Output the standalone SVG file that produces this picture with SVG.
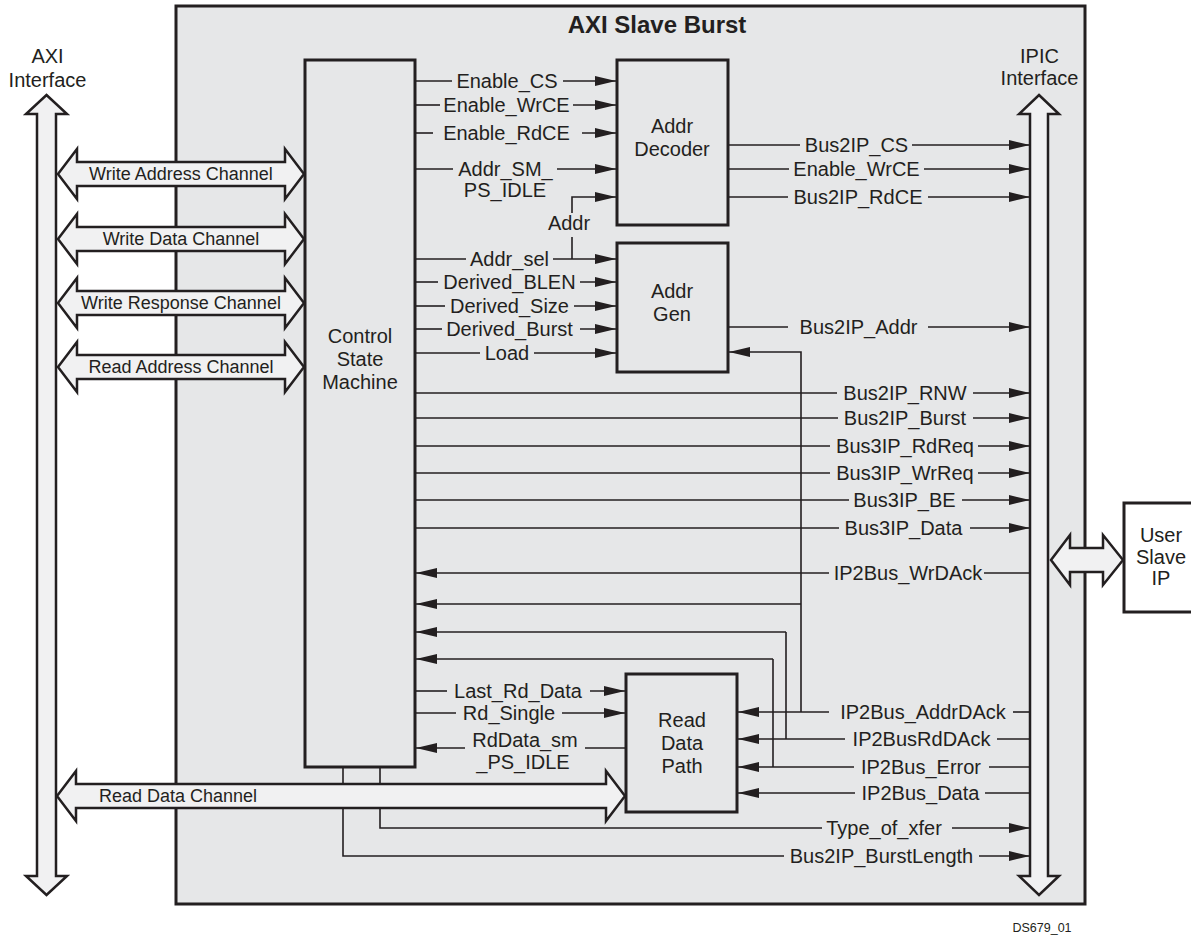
<svg xmlns="http://www.w3.org/2000/svg" width="1191" height="935" viewBox="0 0 1191 935">
<style>
.sig{fill:none;stroke:#231f20;stroke-width:1.6}
.arr{marker-end:url(#ah)}
.box{fill:#e6e7e8;stroke:#231f20;stroke-width:3}
.t{font-family:"Liberation Sans",Arial,Helvetica,sans-serif;font-size:20px;fill:#231f20;text-anchor:middle}
.ct{font-size:18px}
.bus{fill:#f1f1f2;stroke:#231f20;stroke-width:2.5;stroke-linejoin:miter}
</style>
<defs>
<marker id="ah" markerUnits="userSpaceOnUse" markerWidth="22" markerHeight="12" refX="21" refY="5" orient="auto"><path d="M0,0 L21,5 L0,10 z" fill="#231f20"/></marker>
</defs>
<rect width="1191" height="935" fill="#ffffff"/>

<g id="axi-slave-burst">
<rect class="box" x="176" y="6" width="909" height="898"/>
<text class="t" x="657" y="33" style="font-weight:bold;font-size:24px">AXI Slave Burst</text>
</g>

<g id="axi-interface">
<polygon class="bus" points="46.5,95 67,114 56,114 56,876 67,876 46.5,895 26,876 37,876 37,114 26,114"/>
<text class="t" x="47.5" y="63">AXI</text>
<text class="t" x="47.5" y="87">Interface</text>
</g>

<g id="ipic-interface">
<polygon class="bus" points="1039,95 1059,114 1048,114 1048,876 1059,876 1039,895 1019,876 1030,876 1030,114 1019,114"/>
<text class="t" x="1039.5" y="63">IPIC</text>
<text class="t" x="1039.5" y="85">Interface</text>
</g>

<g id="connectors">
<!-- CSM to Addr Decoder -->
<path class="sig" d="M415,81H452"/><path class="sig arr" d="M563,81H616"/>
<path class="sig" d="M415,105H440"/><path class="sig arr" d="M573,105H616"/>
<path class="sig" d="M415,133H433"/><path class="sig arr" d="M582,133H616"/>
<path class="sig" d="M415,169H453"/><path class="sig arr" d="M557,169H616"/>
<path class="sig" d="M572,259V237"/><path class="sig arr" d="M572,213V197H616"/>
<!-- CSM to Addr Gen -->
<path class="sig" d="M415,259H466"/><path class="sig arr" d="M553,259H616"/>
<path class="sig" d="M415,282H438"/><path class="sig arr" d="M580,282H616"/>
<path class="sig" d="M415,306H445"/><path class="sig arr" d="M574,306H616"/>
<path class="sig" d="M415,329H442"/><path class="sig arr" d="M580,329H616"/>
<path class="sig" d="M415,353H480"/><path class="sig arr" d="M534,353H616"/>
<!-- Decoder / Gen to IPIC -->
<path class="sig" d="M728,145H800"/><path class="sig arr" d="M912,145H1030"/>
<path class="sig" d="M728,169H789"/><path class="sig arr" d="M924,169H1030"/>
<path class="sig" d="M728,197H788"/><path class="sig arr" d="M928,197H1030"/>
<path class="sig" d="M728,327H788"/><path class="sig arr" d="M928,327H1030"/>
<!-- CSM to IPIC -->
<path class="sig" d="M415,393H837"/><path class="sig arr" d="M973,393H1030"/>
<path class="sig" d="M415,418H838"/><path class="sig arr" d="M973,418H1030"/>
<path class="sig" d="M415,446H830"/><path class="sig arr" d="M978,446H1030"/>
<path class="sig" d="M415,473H830"/><path class="sig arr" d="M978,473H1030"/>
<path class="sig" d="M415,500H849"/><path class="sig arr" d="M962,500H1030"/>
<path class="sig" d="M415,528H839"/><path class="sig arr" d="M970,528H1030"/>
<!-- IPIC to CSM -->
<path class="sig" d="M1030,573H984"/><path class="sig arr" d="M829,573H416"/>
<path class="sig arr" d="M801,604H416"/>
<path class="sig arr" d="M786,632H416"/>
<path class="sig arr" d="M773,659H416"/>
<path class="sig arr" d="M801,712V352H729"/>
<path class="sig" d="M786,632V739"/>
<path class="sig" d="M773,659V767"/>
<!-- IPIC to Read Data Path -->
<path class="sig" d="M1030,712H1013"/><path class="sig arr" d="M829,712H738"/>
<path class="sig" d="M1030,739H997"/><path class="sig arr" d="M845,739H738"/>
<path class="sig" d="M1030,767H989"/><path class="sig arr" d="M854,767H738"/>
<path class="sig" d="M1030,793H985"/><path class="sig arr" d="M855,793H738"/>
<!-- CSM <-> Read Data Path -->
<path class="sig" d="M415,691H447"/><path class="sig arr" d="M590,691H625"/>
<path class="sig" d="M415,713H456"/><path class="sig arr" d="M562,713H625"/>
<path class="sig" d="M626,748H585"/><path class="sig arr" d="M465,748H416"/>
<!-- CSM bottom to IPIC -->
<path class="sig" d="M380,767V828H822"/><path class="sig arr" d="M952,828H1030"/>
<path class="sig" d="M343,767V856H784"/><path class="sig arr" d="M979,856H1030"/>
</g>

<g id="labels">
<text class="t" x="507" y="88">Enable_CS</text>
<text class="t" x="506.5" y="112">Enable_WrCE</text>
<text class="t" x="506.5" y="140">Enable_RdCE</text>
<text class="t" x="505.5" y="176">Addr_SM_</text>
<text class="t" x="505" y="197">PS_IDLE</text>
<text class="t" x="569" y="230">Addr</text>
<text class="t" x="509.5" y="266">Addr_sel</text>
<text class="t" x="509.5" y="289">Derived_BLEN</text>
<text class="t" x="509.5" y="313">Derived_Size</text>
<text class="t" x="509.5" y="336">Derived_Burst</text>
<text class="t" x="507" y="360">Load</text>
<text class="t" x="856.5" y="152">Bus2IP_CS</text>
<text class="t" x="856.5" y="176">Enable_WrCE</text>
<text class="t" x="858" y="204">Bus2IP_RdCE</text>
<text class="t" x="858.5" y="334">Bus2IP_Addr</text>
<text class="t" x="905" y="400">Bus2IP_RNW</text>
<text class="t" x="905" y="425">Bus2IP_Burst</text>
<text class="t" x="905" y="453">Bus3IP_RdReq</text>
<text class="t" x="905" y="480">Bus3IP_WrReq</text>
<text class="t" x="904.5" y="507">Bus3IP_BE</text>
<text class="t" x="903.5" y="535">Bus3IP_Data</text>
<text class="t" x="908" y="580">IP2Bus_WrDAck</text>
<text class="t" x="923" y="719">IP2Bus_AddrDAck</text>
<text class="t" x="921.5" y="746">IP2BusRdDAck</text>
<text class="t" x="921" y="774">IP2Bus_Error</text>
<text class="t" x="920.5" y="800">IP2Bus_Data</text>
<text class="t" x="518" y="698">Last_Rd_Data</text>
<text class="t" x="509" y="720">Rd_Single</text>
<text class="t" x="525" y="747">RdData_sm</text>
<text class="t" x="523" y="769">_PS_IDLE</text>
<text class="t" x="884" y="835">Type_of_xfer</text>
<text class="t" x="881.5" y="863">Bus2IP_BurstLength</text>
</g>

<g id="write-address-channel">
<polygon class="bus" points="58,174 77,149 77,162 285,162 285,149 304,174 285,199 285,186 77,186 77,199"/>
<text class="t ct" x="181" y="180">Write Address Channel</text>
</g>
<g id="write-data-channel">
<polygon class="bus" points="58,239 77,214 77,227 285,227 285,214 304,239 285,264 285,251 77,251 77,264"/>
<text class="t ct" x="181" y="245">Write Data Channel</text>
</g>
<g id="write-response-channel">
<polygon class="bus" points="58,303 77,278 77,291 285,291 285,278 304,303 285,328 285,315 77,315 77,328"/>
<text class="t ct" x="181" y="309">Write Response Channel</text>
</g>
<g id="read-address-channel">
<polygon class="bus" points="58,367 77,342 77,355 285,355 285,342 304,367 285,392 285,379 77,379 77,392"/>
<text class="t ct" x="181" y="373">Read Address Channel</text>
</g>
<g id="read-data-channel">
<polygon class="bus" points="57,796 76,771 76,784 606,784 606,771 625,796 606,821 606,808 76,808 76,821"/>
<text class="t ct" x="99" y="802" style="text-anchor:start">Read Data Channel</text>
</g>

<g id="control-state-machine">
<rect class="box" x="305" y="60" width="110" height="707"/>
<text class="t" x="360" y="343">Control</text>
<text class="t" x="360" y="366">State</text>
<text class="t" x="360" y="389">Machine</text>
</g>

<g id="addr-decoder">
<rect class="box" x="617" y="60" width="111" height="165"/>
<text class="t" x="672" y="133">Addr</text>
<text class="t" x="672" y="156">Decoder</text>
</g>

<g id="addr-gen">
<rect class="box" x="617" y="243" width="111" height="129"/>
<text class="t" x="672" y="298">Addr</text>
<text class="t" x="672" y="321">Gen</text>
</g>

<g id="read-data-path">
<rect class="box" x="626" y="674" width="111" height="138"/>
<text class="t" x="682" y="727">Read</text>
<text class="t" x="682" y="750">Data</text>
<text class="t" x="682" y="773">Path</text>
</g>

<g id="ipic-user-link">
<polygon class="bus" points="1051,560 1070,535 1070,548 1103,548 1103,535 1123,560 1103,585 1103,572 1070,572 1070,585"/>
</g>

<g id="user-slave-ip">
<rect x="1124" y="503" width="70" height="109" fill="#ffffff" stroke="#231f20" stroke-width="3"/>
<text class="t" x="1161" y="542">User</text>
<text class="t" x="1161" y="564">Slave</text>
<text class="t" x="1161" y="585">IP</text>
</g>

<text class="t" x="1042" y="932" style="font-size:12.5px">DS679_01</text>
</svg>
